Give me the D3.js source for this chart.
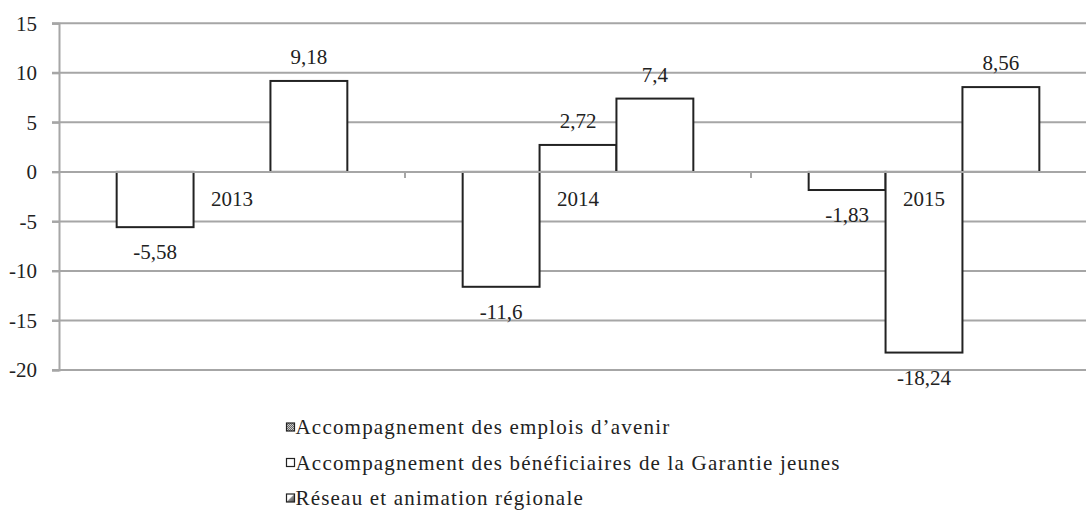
<!DOCTYPE html>
<html>
<head>
<meta charset="utf-8">
<script src="https://cdn.jsdelivr.net/npm/d3@7"></script>
<style>
  body { margin: 0; background: #fff; }
  text { font-family: "Liberation Serif", "Times New Roman", serif; fill: #222; }
</style>
</head>
<body>
<script>
const width = 1086;
const height = 515;

// données
const categories = ['2013', '2014', '2015'];
const series = [
  'Accompagnement des emplois d\u2019avenir',
  'Accompagnement des bénéficiaires de la Garantie jeunes',
  'Réseau et animation régionale'
];
const emploisAvenir = [-5.58, -11.6, -1.83];
const garantieJeunes = [null, 2.72, -18.24];
const reseau = [9.18, 7.4, 8.56];
const yTicks = [-20, -15, -10, -5, 0, 5, 10, 15];

const values = [emploisAvenir, garantieJeunes, reseau];

const svg = d3.select('body')
  .append('svg')
  .attr('width', width)
  .attr('height', height);

svg.append('rect').attr('width', width).attr('height', height).attr('fill', '#fff');

// motifs de la légende
const defs = svg.append('defs');
const p1 = defs.append('pattern')
  .attr('id', 'pat1').attr('patternUnits', 'userSpaceOnUse')
  .attr('width', 2).attr('height', 2);
p1.append('rect').attr('width', 2).attr('height', 2).attr('fill', '#ccc');
p1.append('rect').attr('width', 1).attr('height', 1).attr('fill', '#666');
p1.append('rect').attr('x', 1).attr('y', 1).attr('width', 1).attr('height', 1).attr('fill', '#666');
const p3 = defs.append('linearGradient')
  .attr('id', 'pat3').attr('x1', 0).attr('y1', 0).attr('x2', 1).attr('y2', 1);
p3.append('stop').attr('offset', '0%').attr('stop-color', '#fff');
p3.append('stop').attr('offset', '45%').attr('stop-color', '#fff');
p3.append('stop').attr('offset', '55%').attr('stop-color', '#888');
p3.append('stop').attr('offset', '100%').attr('stop-color', '#555');
const fills = ['url(#pat1)', '#fff', 'url(#pat3)'];

// échelles
const x0 = d3.scaleBand()
  .domain(categories)
  .range([59, 1097])
  .paddingInner(0)
  .paddingOuter(0);

const x1 = d3.scaleBand()
  .domain(d3.range(series.length))
  .range([0, x0.bandwidth()])
  .paddingInner(0)
  .paddingOuter(0.75);

const y = d3.scaleLinear()
  .domain([-20, 15])
  .range([370, 23.3]);

// grille
svg.append('g')
  .selectAll('line')
  .data(yTicks)
  .join('line')
  .attr('x1', 52)
  .attr('x2', width)
  .attr('y1', d => y(d))
  .attr('y2', d => y(d))
  .attr('stroke', '#a6a6a6')
  .attr('stroke-width', 2);

// axe vertical
const yAxis = svg.append('g')
  .attr('transform', 'translate(59,0)')
  .call(d3.axisLeft(y).tickValues(yTicks).tickSize(7).tickPadding(15).tickFormat(d3.format('d')));
yAxis.select('.domain').attr('stroke', '#a6a6a6').attr('stroke-width', 2);
yAxis.selectAll('.tick line').attr('stroke', '#a6a6a6').attr('stroke-width', 2);
yAxis.selectAll('.tick text')
  .attr('font-size', 21)
  .attr('font-family', '"Liberation Serif", serif')
  .attr('fill', '#222')
  .text(d => String(d));

// barres
const rows = [];
categories.forEach((c, i) => {
  values.forEach((vals, s) => {
    if (vals[i] !== null) rows.push({ cat: c, s: s, v: vals[i] });
  });
});

svg.append('g')
  .selectAll('rect')
  .data(rows)
  .join('rect')
  .attr('x', d => x0(d.cat) + x1(d.s))
  .attr('y', d => y(Math.max(0, d.v)))
  .attr('width', x1.bandwidth())
  .attr('height', d => Math.abs(y(d.v) - y(0)))
  .attr('fill', '#fff')
  .attr('stroke', '#222')
  .attr('stroke-width', 2);

// axe horizontal (à zéro)
svg.append('line')
  .attr('x1', 59).attr('x2', width)
  .attr('y1', y(0)).attr('y2', y(0))
  .attr('stroke', '#a6a6a6').attr('stroke-width', 2);
svg.append('g')
  .selectAll('line')
  .data(categories.slice(1))
  .join('line')
  .attr('x1', d => x0(d)).attr('x2', d => x0(d))
  .attr('y1', y(0)).attr('y2', y(0) + 6)
  .attr('stroke', '#a6a6a6').attr('stroke-width', 2);
svg.append('g')
  .selectAll('text')
  .data(categories)
  .join('text')
  .attr('x', d => x0(d) + x0.bandwidth() / 2)
  .attr('y', y(0) + 34)
  .attr('text-anchor', 'middle')
  .attr('font-size', 21)
  .text(d => d);

// étiquettes de valeurs
const fmt = v => String(v).replace('.', ',');
svg.append('g')
  .selectAll('text')
  .data(rows)
  .join('text')
  .attr('x', d => x0(d.cat) + x1(d.s) + x1.bandwidth() / 2)
  .attr('y', d => d.v >= 0 ? y(d.v) - 17 : y(d.v) + 32)
  .attr('text-anchor', 'middle')
  .attr('font-size', 21)
  .text(d => fmt(d.v));

// légende
const legend = svg.append('g')
  .selectAll('g')
  .data(series)
  .join('g')
  .attr('transform', (d, i) => `translate(286,${427 + i * 35.5})`);
legend.append('rect')
  .attr('x', 0.5).attr('y', -4)
  .attr('width', 8).attr('height', 8)
  .attr('fill', (d, i) => fills[i])
  .attr('stroke', '#222')
  .attr('stroke-width', 1.2);
legend.append('text')
  .attr('x', 9.5)
  .attr('y', 7)
  .attr('font-size', 21)
  .attr('letter-spacing', 1.2)
  .text(d => d);
</script>
</body>
</html>
